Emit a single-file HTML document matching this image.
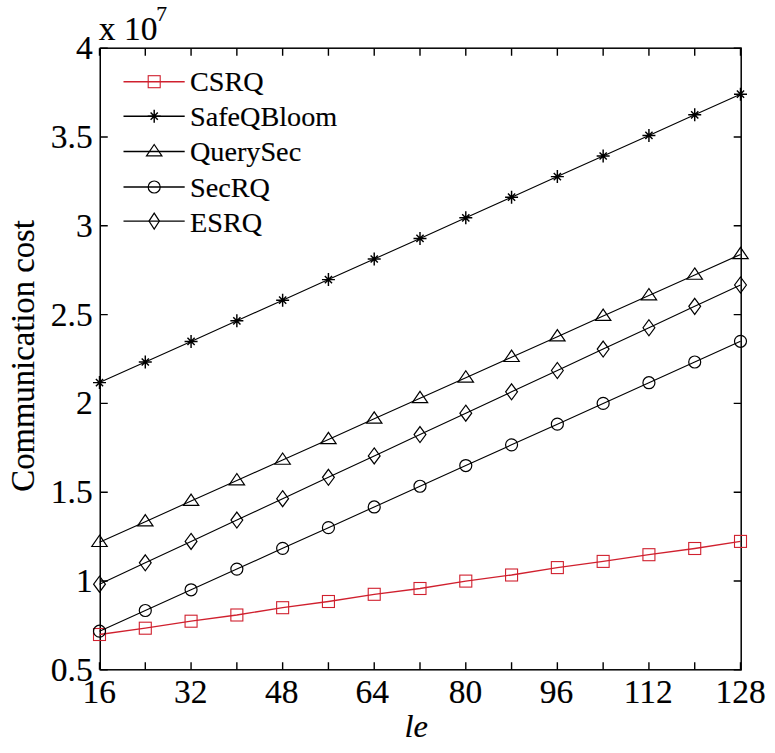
<!DOCTYPE html><html><head><meta charset="utf-8"><style>html,body{margin:0;padding:0;background:#fff;}svg{display:block}text{font-family:"Liberation Serif",serif;stroke:#000;stroke-width:0.15px;}</style></head><body>
<svg width="775" height="753" viewBox="0 0 775 753">
<rect width="775" height="753" fill="#fff"/>
<path d="M99.50 669.80V662.30M99.50 48.20V55.70M145.29 669.80V662.30M145.29 48.20V55.70M191.07 669.80V662.30M191.07 48.20V55.70M236.86 669.80V662.30M236.86 48.20V55.70M282.64 669.80V662.30M282.64 48.20V55.70M328.43 669.80V662.30M328.43 48.20V55.70M374.22 669.80V662.30M374.22 48.20V55.70M420.00 669.80V662.30M420.00 48.20V55.70M465.79 669.80V662.30M465.79 48.20V55.70M511.57 669.80V662.30M511.57 48.20V55.70M557.36 669.80V662.30M557.36 48.20V55.70M603.15 669.80V662.30M603.15 48.20V55.70M648.93 669.80V662.30M648.93 48.20V55.70M694.72 669.80V662.30M694.72 48.20V55.70M740.50 669.80V662.30M740.50 48.20V55.70M100.25 669.80H107.75M741.20 669.80H733.70M100.25 581.00H107.75M741.20 581.00H733.70M100.25 492.20H107.75M741.20 492.20H733.70M100.25 403.40H107.75M741.20 403.40H733.70M100.25 314.60H107.75M741.20 314.60H733.70M100.25 225.80H107.75M741.20 225.80H733.70M100.25 137.00H107.75M741.20 137.00H733.70M100.25 48.20H107.75M741.20 48.20H733.70" stroke="#000" stroke-width="1.4" fill="none"/>
<rect x="100.25" y="48.20" width="640.95" height="621.60" stroke="#000" stroke-width="1.5" fill="none"/>
<text x="92.7" y="680.70" font-size="33.5" text-anchor="end">0.5</text>
<text x="92.7" y="591.90" font-size="33.5" text-anchor="end">1</text>
<text x="92.7" y="503.10" font-size="33.5" text-anchor="end">1.5</text>
<text x="92.7" y="414.30" font-size="33.5" text-anchor="end">2</text>
<text x="92.7" y="325.50" font-size="33.5" text-anchor="end">2.5</text>
<text x="92.7" y="236.70" font-size="33.5" text-anchor="end">3</text>
<text x="92.7" y="147.90" font-size="33.5" text-anchor="end">3.5</text>
<text x="92.7" y="59.10" font-size="33.5" text-anchor="end">4</text>
<text x="99.30" y="703.2" font-size="33.5" text-anchor="middle">16</text>
<text x="190.82" y="703.2" font-size="33.5" text-anchor="middle">32</text>
<text x="281.74" y="703.2" font-size="33.5" text-anchor="middle">48</text>
<text x="372.32" y="703.2" font-size="33.5" text-anchor="middle">64</text>
<text x="465.44" y="703.2" font-size="33.5" text-anchor="middle">80</text>
<text x="556.46" y="703.2" font-size="33.5" text-anchor="middle">96</text>
<text x="648.28" y="703.2" font-size="33.5" text-anchor="middle">112</text>
<text x="740.65" y="703.2" font-size="33.5" text-anchor="middle">128</text>
<text x="98.8" y="39.7" font-size="33.5">x 10</text>
<text x="156.3" y="20.6" font-size="21.7">7</text>
<text transform="translate(34.4 355.9) rotate(-90)" font-size="32.7" text-anchor="middle">Communication cost</text>
<text x="416.3" y="736.9" font-size="32.5" font-style="italic" text-anchor="middle">le</text>
<polyline points="99.50,634.50 145.29,628.20 191.07,621.20 236.86,615.00 282.64,607.70 328.43,601.50 374.22,594.30 420.00,588.50 465.79,581.10 511.57,575.00 557.36,567.60 603.15,561.40 648.93,554.70 694.72,548.50 740.50,541.40" stroke="#d0202e" stroke-width="1.3" fill="none"/>
<rect x="93.50" y="628.50" width="12" height="12" stroke="#d0202e" stroke-width="1.1" fill="none"/>
<rect x="139.29" y="622.20" width="12" height="12" stroke="#d0202e" stroke-width="1.1" fill="none"/>
<rect x="185.07" y="615.20" width="12" height="12" stroke="#d0202e" stroke-width="1.1" fill="none"/>
<rect x="230.86" y="609.00" width="12" height="12" stroke="#d0202e" stroke-width="1.1" fill="none"/>
<rect x="276.64" y="601.70" width="12" height="12" stroke="#d0202e" stroke-width="1.1" fill="none"/>
<rect x="322.43" y="595.50" width="12" height="12" stroke="#d0202e" stroke-width="1.1" fill="none"/>
<rect x="368.22" y="588.30" width="12" height="12" stroke="#d0202e" stroke-width="1.1" fill="none"/>
<rect x="414.00" y="582.50" width="12" height="12" stroke="#d0202e" stroke-width="1.1" fill="none"/>
<rect x="459.79" y="575.10" width="12" height="12" stroke="#d0202e" stroke-width="1.1" fill="none"/>
<rect x="505.57" y="569.00" width="12" height="12" stroke="#d0202e" stroke-width="1.1" fill="none"/>
<rect x="551.36" y="561.60" width="12" height="12" stroke="#d0202e" stroke-width="1.1" fill="none"/>
<rect x="597.15" y="555.40" width="12" height="12" stroke="#d0202e" stroke-width="1.1" fill="none"/>
<rect x="642.93" y="548.70" width="12" height="12" stroke="#d0202e" stroke-width="1.1" fill="none"/>
<rect x="688.72" y="542.50" width="12" height="12" stroke="#d0202e" stroke-width="1.1" fill="none"/>
<rect x="734.50" y="535.40" width="12" height="12" stroke="#d0202e" stroke-width="1.1" fill="none"/>
<polyline points="99.50,382.60 145.29,362.00 191.07,341.40 236.86,320.80 282.64,300.20 328.43,279.60 374.22,259.00 420.00,238.40 465.79,217.80 511.57,197.20 557.36,176.60 603.15,156.00 648.93,135.40 694.72,114.80 740.50,94.20" stroke="#000" stroke-width="1.1" fill="none"/>
<path d="M93.00 382.60H106.00M99.50 376.10V389.10M95.90 379.00L103.10 386.20M95.90 386.20L103.10 379.00" stroke="#000" stroke-width="1.45" fill="none"/>
<path d="M138.79 362.00H151.79M145.29 355.50V368.50M141.69 358.40L148.89 365.60M141.69 365.60L148.89 358.40" stroke="#000" stroke-width="1.45" fill="none"/>
<path d="M184.57 341.40H197.57M191.07 334.90V347.90M187.47 337.80L194.67 345.00M187.47 345.00L194.67 337.80" stroke="#000" stroke-width="1.45" fill="none"/>
<path d="M230.36 320.80H243.36M236.86 314.30V327.30M233.26 317.20L240.46 324.40M233.26 324.40L240.46 317.20" stroke="#000" stroke-width="1.45" fill="none"/>
<path d="M276.14 300.20H289.14M282.64 293.70V306.70M279.04 296.60L286.24 303.80M279.04 303.80L286.24 296.60" stroke="#000" stroke-width="1.45" fill="none"/>
<path d="M321.93 279.60H334.93M328.43 273.10V286.10M324.83 276.00L332.03 283.20M324.83 283.20L332.03 276.00" stroke="#000" stroke-width="1.45" fill="none"/>
<path d="M367.72 259.00H380.72M374.22 252.50V265.50M370.62 255.40L377.82 262.60M370.62 262.60L377.82 255.40" stroke="#000" stroke-width="1.45" fill="none"/>
<path d="M413.50 238.40H426.50M420.00 231.90V244.90M416.40 234.80L423.60 242.00M416.40 242.00L423.60 234.80" stroke="#000" stroke-width="1.45" fill="none"/>
<path d="M459.29 217.80H472.29M465.79 211.30V224.30M462.19 214.20L469.39 221.40M462.19 221.40L469.39 214.20" stroke="#000" stroke-width="1.45" fill="none"/>
<path d="M505.07 197.20H518.07M511.57 190.70V203.70M507.97 193.60L515.17 200.80M507.97 200.80L515.17 193.60" stroke="#000" stroke-width="1.45" fill="none"/>
<path d="M550.86 176.60H563.86M557.36 170.10V183.10M553.76 173.00L560.96 180.20M553.76 180.20L560.96 173.00" stroke="#000" stroke-width="1.45" fill="none"/>
<path d="M596.65 156.00H609.65M603.15 149.50V162.50M599.55 152.40L606.75 159.60M599.55 159.60L606.75 152.40" stroke="#000" stroke-width="1.45" fill="none"/>
<path d="M642.43 135.40H655.43M648.93 128.90V141.90M645.33 131.80L652.53 139.00M645.33 139.00L652.53 131.80" stroke="#000" stroke-width="1.45" fill="none"/>
<path d="M688.22 114.80H701.22M694.72 108.30V121.30M691.12 111.20L698.32 118.40M691.12 118.40L698.32 111.20" stroke="#000" stroke-width="1.45" fill="none"/>
<path d="M734.00 94.20H747.00M740.50 87.70V100.70M736.90 90.60L744.10 97.80M736.90 97.80L744.10 90.60" stroke="#000" stroke-width="1.45" fill="none"/>
<polyline points="99.50,542.20 145.29,521.64 191.07,501.09 236.86,480.53 282.64,459.97 328.43,439.41 374.22,418.86 420.00,398.30 465.79,377.74 511.57,357.19 557.36,336.63 603.15,316.07 648.93,295.51 694.72,274.96 740.50,254.40" stroke="#000" stroke-width="1.1" fill="none"/>
<path d="M99.50 535.20L107.20 546.50H91.80Z" stroke="#000" stroke-width="1.2" fill="none"/>
<path d="M145.29 514.64L152.99 525.94H137.59Z" stroke="#000" stroke-width="1.2" fill="none"/>
<path d="M191.07 494.09L198.77 505.39H183.37Z" stroke="#000" stroke-width="1.2" fill="none"/>
<path d="M236.86 473.53L244.56 484.83H229.16Z" stroke="#000" stroke-width="1.2" fill="none"/>
<path d="M282.64 452.97L290.34 464.27H274.94Z" stroke="#000" stroke-width="1.2" fill="none"/>
<path d="M328.43 432.41L336.13 443.71H320.73Z" stroke="#000" stroke-width="1.2" fill="none"/>
<path d="M374.22 411.86L381.92 423.16H366.52Z" stroke="#000" stroke-width="1.2" fill="none"/>
<path d="M420.00 391.30L427.70 402.60H412.30Z" stroke="#000" stroke-width="1.2" fill="none"/>
<path d="M465.79 370.74L473.49 382.04H458.09Z" stroke="#000" stroke-width="1.2" fill="none"/>
<path d="M511.57 350.19L519.27 361.49H503.87Z" stroke="#000" stroke-width="1.2" fill="none"/>
<path d="M557.36 329.63L565.06 340.93H549.66Z" stroke="#000" stroke-width="1.2" fill="none"/>
<path d="M603.15 309.07L610.85 320.37H595.45Z" stroke="#000" stroke-width="1.2" fill="none"/>
<path d="M648.93 288.51L656.63 299.81H641.23Z" stroke="#000" stroke-width="1.2" fill="none"/>
<path d="M694.72 267.96L702.42 279.26H687.02Z" stroke="#000" stroke-width="1.2" fill="none"/>
<path d="M740.50 247.40L748.20 258.70H732.80Z" stroke="#000" stroke-width="1.2" fill="none"/>
<polyline points="99.50,631.20 145.29,610.49 191.07,589.79 236.86,569.08 282.64,548.37 328.43,527.66 374.22,506.96 420.00,486.25 465.79,465.54 511.57,444.84 557.36,424.13 603.15,403.42 648.93,382.71 694.72,362.01 740.50,341.30" stroke="#000" stroke-width="1.1" fill="none"/>
<circle cx="99.50" cy="631.20" r="6" stroke="#000" stroke-width="1.2" fill="none"/>
<circle cx="145.29" cy="610.49" r="6" stroke="#000" stroke-width="1.2" fill="none"/>
<circle cx="191.07" cy="589.79" r="6" stroke="#000" stroke-width="1.2" fill="none"/>
<circle cx="236.86" cy="569.08" r="6" stroke="#000" stroke-width="1.2" fill="none"/>
<circle cx="282.64" cy="548.37" r="6" stroke="#000" stroke-width="1.2" fill="none"/>
<circle cx="328.43" cy="527.66" r="6" stroke="#000" stroke-width="1.2" fill="none"/>
<circle cx="374.22" cy="506.96" r="6" stroke="#000" stroke-width="1.2" fill="none"/>
<circle cx="420.00" cy="486.25" r="6" stroke="#000" stroke-width="1.2" fill="none"/>
<circle cx="465.79" cy="465.54" r="6" stroke="#000" stroke-width="1.2" fill="none"/>
<circle cx="511.57" cy="444.84" r="6" stroke="#000" stroke-width="1.2" fill="none"/>
<circle cx="557.36" cy="424.13" r="6" stroke="#000" stroke-width="1.2" fill="none"/>
<circle cx="603.15" cy="403.42" r="6" stroke="#000" stroke-width="1.2" fill="none"/>
<circle cx="648.93" cy="382.71" r="6" stroke="#000" stroke-width="1.2" fill="none"/>
<circle cx="694.72" cy="362.01" r="6" stroke="#000" stroke-width="1.2" fill="none"/>
<circle cx="740.50" cy="341.30" r="6" stroke="#000" stroke-width="1.2" fill="none"/>
<polyline points="99.50,584.20 145.29,562.83 191.07,541.46 236.86,520.09 282.64,498.71 328.43,477.34 374.22,455.97 420.00,434.60 465.79,413.23 511.57,391.86 557.36,370.49 603.15,349.11 648.93,327.74 694.72,306.37 740.50,285.00" stroke="#000" stroke-width="1.1" fill="none"/>
<path d="M99.50 576.20L105.40 584.20L99.50 592.20L93.60 584.20Z" stroke="#000" stroke-width="1.2" fill="none"/>
<path d="M145.29 554.83L151.19 562.83L145.29 570.83L139.39 562.83Z" stroke="#000" stroke-width="1.2" fill="none"/>
<path d="M191.07 533.46L196.97 541.46L191.07 549.46L185.17 541.46Z" stroke="#000" stroke-width="1.2" fill="none"/>
<path d="M236.86 512.09L242.76 520.09L236.86 528.09L230.96 520.09Z" stroke="#000" stroke-width="1.2" fill="none"/>
<path d="M282.64 490.71L288.54 498.71L282.64 506.71L276.74 498.71Z" stroke="#000" stroke-width="1.2" fill="none"/>
<path d="M328.43 469.34L334.33 477.34L328.43 485.34L322.53 477.34Z" stroke="#000" stroke-width="1.2" fill="none"/>
<path d="M374.22 447.97L380.12 455.97L374.22 463.97L368.32 455.97Z" stroke="#000" stroke-width="1.2" fill="none"/>
<path d="M420.00 426.60L425.90 434.60L420.00 442.60L414.10 434.60Z" stroke="#000" stroke-width="1.2" fill="none"/>
<path d="M465.79 405.23L471.69 413.23L465.79 421.23L459.89 413.23Z" stroke="#000" stroke-width="1.2" fill="none"/>
<path d="M511.57 383.86L517.47 391.86L511.57 399.86L505.67 391.86Z" stroke="#000" stroke-width="1.2" fill="none"/>
<path d="M557.36 362.49L563.26 370.49L557.36 378.49L551.46 370.49Z" stroke="#000" stroke-width="1.2" fill="none"/>
<path d="M603.15 341.11L609.05 349.11L603.15 357.11L597.25 349.11Z" stroke="#000" stroke-width="1.2" fill="none"/>
<path d="M648.93 319.74L654.83 327.74L648.93 335.74L643.03 327.74Z" stroke="#000" stroke-width="1.2" fill="none"/>
<path d="M694.72 298.37L700.62 306.37L694.72 314.37L688.82 306.37Z" stroke="#000" stroke-width="1.2" fill="none"/>
<path d="M740.50 277.00L746.40 285.00L740.50 293.00L734.60 285.00Z" stroke="#000" stroke-width="1.2" fill="none"/>
<path d="M123.5 81.70H184.7" stroke="#d0202e" stroke-width="1.4"/>
<rect x="148.20" y="75.70" width="12" height="12" stroke="#d0202e" stroke-width="1.1" fill="none"/>
<text x="190" y="90.60" font-size="28.2">CSRQ</text>
<path d="M123.5 116.20H184.7" stroke="#000" stroke-width="1.4"/>
<path d="M147.70 116.20H160.70M154.20 109.70V122.70M150.60 112.60L157.80 119.80M150.60 119.80L157.80 112.60" stroke="#000" stroke-width="1.45" fill="none"/>
<text x="190" y="126.00" font-size="28.2">SafeQBloom</text>
<path d="M123.5 151.50H184.7" stroke="#000" stroke-width="1.4"/>
<path d="M154.20 144.50L161.90 155.80H146.50Z" stroke="#000" stroke-width="1.2" fill="none"/>
<text x="190" y="161.40" font-size="28.2">QuerySec</text>
<path d="M123.5 187.00H184.7" stroke="#000" stroke-width="1.4"/>
<circle cx="154.20" cy="187.00" r="6" stroke="#000" stroke-width="1.2" fill="none"/>
<text x="190" y="196.80" font-size="28.2">SecRQ</text>
<path d="M123.5 221.10H184.7" stroke="#000" stroke-width="1.4"/>
<path d="M154.20 213.10L159.40 221.10L154.20 229.10L149.00 221.10Z" stroke="#000" stroke-width="1.2" fill="none"/>
<text x="190" y="232.20" font-size="28.2">ESRQ</text>
</svg></body></html>
